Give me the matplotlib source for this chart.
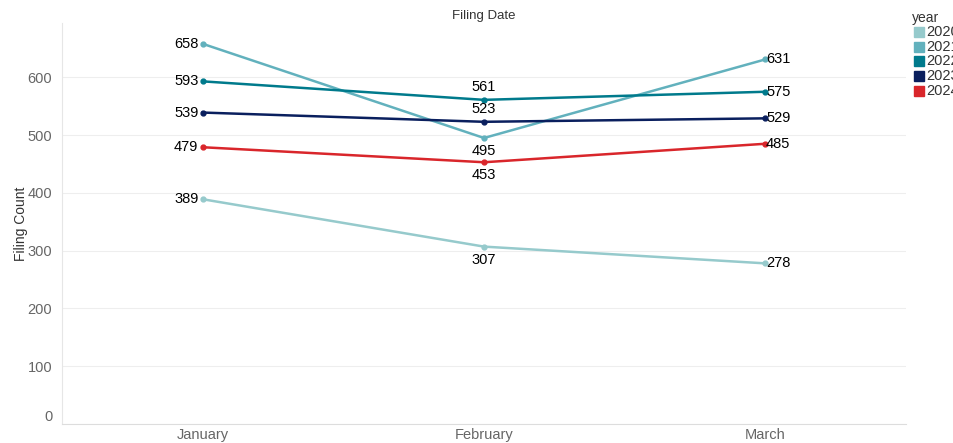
import numpy as np
import matplotlib
matplotlib.use('Agg')
import matplotlib.pyplot as plt
from matplotlib.patches import Rectangle

matplotlib.rcParams['font.family'] = ['Liberation Sans', 'DejaVu Sans']
matplotlib.rcParams['font.size'] = 9

months = ['January', 'February', 'March']
years = ['2020', '2021', '2022', '2023', '2024']
v2020 = [389, 307, 278]
v2021 = [658, 495, 631]
v2022 = [593, 561, 575]
v2023 = [539, 523, 529]
v2024 = [479, 453, 485]
series = [v2020, v2021, v2022, v2023, v2024]
colors = ['#96cacc', '#62b1bd', '#007a8c', '#0a1f5e', '#d9262b']
# February labels: above (1) or below (-1)
feb_pos = [-1, -1, 1, 1, -1]

fig = plt.figure(figsize=(9.54, 4.43), dpi=100)
ax = fig.add_axes([62/954, 19/443, 844/954, 401/443])

x = np.arange(len(months))
for vals, c, fp in zip(series, colors, feb_pos):
    ax.plot(x, vals, color=c, lw=1.8, marker='o', ms=3.5, zorder=3)
    ax.annotate(str(vals[0]), (x[0], vals[0]), xytext=(-3, 0), textcoords='offset points',
                ha='right', va='center', fontsize=10.5, color='black')
    ax.annotate(str(vals[1]), (x[1], vals[1]), xytext=(0, 9.5 * fp), textcoords='offset points',
                ha='center', va='center', fontsize=10.5, color='black')
    ax.annotate(str(vals[2]), (x[2], vals[2]), xytext=(0.5, 0), textcoords='offset points',
                ha='left', va='center', fontsize=10.5, color='black')

ax.set_xlim(-0.5, 2.5)
ax.set_ylim(0, 694)
ax.set_xticks(x)
ax.set_xticklabels(months)
ax.set_yticks(np.arange(0, 700, 100))
ax.grid(axis='y', color='#eeeeee', lw=0.8)
ax.set_axisbelow(True)
for s in ['top', 'right']:
    ax.spines[s].set_visible(False)
ax.spines['left'].set_color('#e6e6e6')
ax.spines['bottom'].set_color('#dddddd')
ax.tick_params(axis='both', colors='#666666', labelsize=10.5, length=0)
ax.tick_params(axis='y', pad=7)
ax.tick_params(axis='x', pad=3)
ax.get_yticklabels()[0].set_va('bottom')
ax.set_ylabel('Filing Count', fontsize=10, color='#333333', labelpad=0)
ax.set_title('Filing Date', fontsize=9.5, color='#333333', pad=3)

# legend at the top right, cut off by the figure edge
fig.text(912/954, 1 - 18/443, 'year', fontsize=10, color='#333333', va='center', ha='left')
for i, (yr, c) in enumerate(zip(years, colors)):
    yc = 32 + i * 14.7
    fig.patches.append(Rectangle((914/954, 1 - (yc + 5)/443), 10/954, 10/443,
                                 transform=fig.transFigure, color=c))
    fig.text(926/954, 1 - yc/443, yr, fontsize=10.5, color='#333333', va='center', ha='left')

fig.savefig('out.png', dpi=100)
